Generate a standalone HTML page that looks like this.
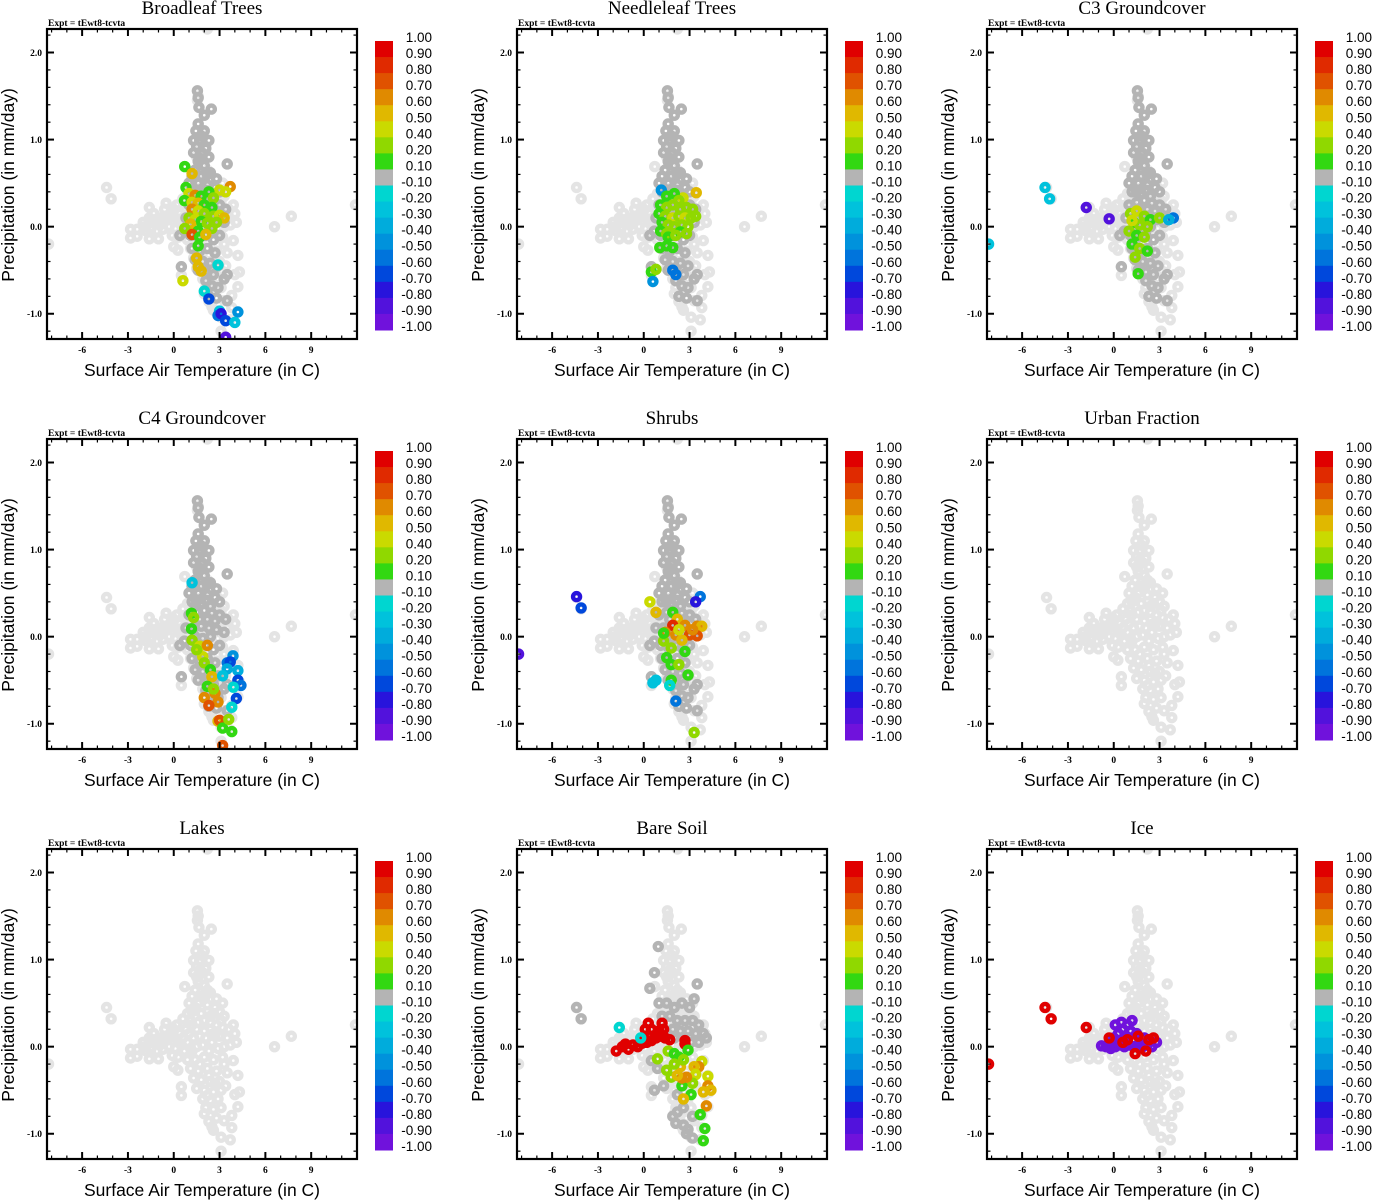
<!DOCTYPE html>
<html><head><meta charset="utf-8"><title>Correlation scatter panels</title>
<style>
html,body{margin:0;padding:0;background:#fff;}
svg{display:block;}
.ttl{font-family:"Liberation Serif",serif;font-size:19px;text-anchor:middle;}
.expt{font-family:"Liberation Serif",serif;font-size:9.5px;font-weight:bold;}
.axl{font-family:"Liberation Sans",sans-serif;font-size:17.5px;text-anchor:middle;}
.tk{font-family:"Liberation Serif",serif;font-size:9.5px;font-weight:bold;}
.cbl{font-family:"Liberation Sans",sans-serif;font-size:13.5px;text-anchor:end;}
</style></head>
<body>
<svg id="fig" width="1373" height="1200" viewBox="0 0 1373 1200" xmlns="http://www.w3.org/2000/svg"></svg>
<script>
// ---- data ----
const panelTitles = ["Broadleaf Trees","Needleleaf Trees","C3 Groundcover","C4 Groundcover","Shrubs","Urban Fraction","Lakes","Bare Soil","Ice"];
const xTicks = [-6,-3,0,3,6,9];
const yTicks = [-1,0,1,2];
const yTickLabels = ["-1.0","0.0","1.0","2.0"];
const cbLabels = ["1.00","0.90","0.80","0.70","0.60","0.50","0.40","0.20","0.10","-0.10","-0.20","-0.30","-0.40","-0.50","-0.60","-0.70","-0.80","-0.90","-1.00"];
const cbValues = [1.0,0.9,0.8,0.7,0.6,0.5,0.4,0.2,0.1,-0.1,-0.2,-0.3,-0.4,-0.5,-0.6,-0.7,-0.8,-0.9,-1.0];
const cbColors = ["#e00000","#e02a00","#e05200","#e08a00","#e0b800","#cada00","#90d800","#32d812","#b4b4b4","#00d6d0","#00c2dc","#00acdc","#0092dc","#0074dc","#0048dc","#2814dc","#5212dc","#7012dc"];

const lightCloud = [[1.55,1.56],[1.6,1.5],[1.55,1.45],[1.65,1.37],[2.46,1.35],[2.0,1.28],[1.6,1.18],[1.45,1.1],[2.0,1.1],[1.8,1.05],[1.3,0.99],[1.7,0.99],[2.3,0.99],[1.5,0.92],[2.1,0.9],[1.3,0.85],[1.9,0.85],[2.3,0.8],[0.72,0.69],[3.5,0.72],[1.6,0.75],[2.0,0.7],[1.4,0.65],[2.4,0.62],[1.2,0.58],[1.8,0.58],[2.8,0.55],[3.2,0.5],[1.0,0.5],[1.6,0.5],[2.2,0.48],[2.7,0.45],[3.0,0.4],[3.3,0.35],[1.2,0.4],[1.8,0.38],[2.4,0.35],
[-2.0,0.05],[-1.6,0.1],[-1.2,0.05],[-0.8,0.1],[-0.4,0.08],[0,0.12],[0.4,0.15],[0.8,0.2],[1.2,0.25],[1.6,0.28],[2.0,0.3],[2.4,0.28],[2.8,0.25],[3.2,0.22],[3.6,0.2],[4.0,0.15],[4.1,0.05],[3.7,0.02],[3.3,0.0],[2.9,-0.02],[2.5,0.05],[2.1,0.1],[1.7,0.12],[1.3,0.1],[0.9,0.05],[0.5,0.02],[0.1,-0.02],[-0.3,0.0],[-0.7,-0.03],[-1.1,-0.05],[-1.5,-0.03],[-1.9,0.0],[-1.3,0.15],[-0.6,0.2],[0.2,0.25],[0.6,0.32],[-0.1,-0.1],[0.3,-0.12],[-1.8,-0.05],[2.0,0.18],[2.6,0.15],[3.0,0.12],[1.0,0.15],[0.0,0.2],[-1.0,0.1],[-0.2,0.15],[0.6,0.1],[1.5,0.2],[3.5,0.1],
[-1.4,0.08],[-0.9,0.02],[-0.5,0.12],[0.3,0.05],[0.7,-0.05],[1.1,-0.02],[1.5,0.0],[1.9,0.02],[2.3,-0.05],[2.7,0.12],[3.1,0.3],[3.9,0.25],[1.1,0.3],[0.9,0.38],[2.6,0.38],[1.4,0.45],[2.0,0.55],[1.5,0.8],[2.2,0.65],[1.7,0.88],
[-4.4,0.45],[-4.1,0.32],[-1.6,0.22],[-0.5,0.27],[-2.83,-0.03],[-2.83,-0.13],[-2.4,-0.03],[-2.4,-0.11],[-1.6,-0.14],[-1.0,-0.14],[0,-0.23],[0.27,-0.27],[7.7,0.12],[6.6,0.0],[2.2,2.27],[-8.2,-0.2],[11.9,0.25],
[0.9,-0.15],[1.4,-0.15],[2.0,-0.12],[2.6,-0.15],[3.2,-0.12],[1.1,-0.25],[1.6,-0.28],[2.2,-0.25],[2.8,-0.28],[1.3,-0.36],[1.8,-0.38],[2.4,-0.4],[3.0,-0.4],[1.5,-0.48],[2.0,-0.5],[2.6,-0.52],[3.1,-0.5],[1.9,-0.6],[2.4,-0.62],[2.9,-0.6],[2.1,-0.7],[2.6,-0.72],[3.1,-0.7],[0.5,-0.46],[0.5,-0.56],[4.2,-0.33],[3.9,-0.16],[4.3,-0.52],[4.0,-0.55],[4.2,-0.69],[3.8,-0.79],[2.0,-0.77],[2.6,-0.96],[2.5,-0.92],[3.1,-1.04],[3.7,-1.07],[3.8,-0.93],[3.1,-1.2],[3.4,-0.45],[3.5,-0.3],
[1.2,-0.05],[1.7,-0.2],[2.3,-0.33],[2.7,-0.42],[2.2,-0.56],[2.8,-0.82],[2.3,-0.86],[3.3,-0.85],[3.3,-0.2]];

const darkCommon = [[1.55,1.56],[1.6,1.48],[1.65,1.37],[2.46,1.35],[2.0,1.28],[1.6,1.18],[1.45,1.1],[2.0,1.1],[1.8,1.04],[1.3,0.99],[1.7,0.99],[2.3,0.99],[1.5,0.92],[2.1,0.9],[1.3,0.85],[1.9,0.84],[2.3,0.8],[1.6,0.75],[2.0,0.7],[3.5,0.72],[1.4,0.65],[2.4,0.62],[1.2,0.58],[1.8,0.58],[2.8,0.55],[1.0,0.5],[1.6,0.5],[2.2,0.48],[2.7,0.45],[1.2,0.4],[1.8,0.38],[2.4,0.35],[3.0,0.4],[1.0,0.25],[1.5,0.28],[2.0,0.3],[2.5,0.27],[3.0,0.25],[3.4,0.2],[0.8,0.1],[1.3,0.1],[1.8,0.12],[2.3,0.1],[2.8,0.08],[3.3,0.05],[0.7,-0.05],[1.1,-0.1],[1.6,-0.12],[2.1,-0.1],[2.6,-0.15],[3.0,-0.1],[1.2,-0.25],[1.7,-0.28],[2.2,-0.25],[2.7,-0.3],[1.4,-0.38],[1.9,-0.4],[2.4,-0.42],[2.9,-0.45],[1.6,-0.5],[2.1,-0.52],[2.6,-0.55],[2.1,-0.62],[2.5,-0.68],[2.9,-0.7],[2.3,-0.8],[2.8,-0.82],[3.3,-0.6],[3.5,-0.55],[0.5,-0.46],[0.4,-0.1],[3.5,-0.85],[1.7,0.2],[2.2,0.2],[2.7,0.18],[1.4,0.0],[1.9,-0.02],[2.4,0.0],[1.5,0.4],[2.1,0.42],[1.8,0.78],[2.2,0.6]];

const darkBare = [[0.95,1.15],[0.7,0.85],[0.4,0.67],[3.5,0.72],[1.0,0.5],[1.5,0.5],[2.0,0.45],[2.5,0.5],[3.0,0.45],[3.3,0.55],[1.2,0.35],[1.7,0.35],[2.2,0.3],[2.7,0.3],[3.2,0.3],[3.6,0.25],[1.9,0.2],[2.4,0.18],[2.9,0.18],[3.4,0.15],[3.9,0.15],[4.1,0.1],[2.0,0.1],[3.1,0.05],[3.6,0.05],[0.5,-0.16],[0.9,-0.25],[1.3,-0.45],[0.7,-0.5],[2.2,-0.55],[2.6,-0.7],[2.2,-0.75],[1.9,-0.8],[2.1,-0.88],[2.9,-0.95],[2.8,-1.0],[3.2,-1.05],[-4.4,0.45],[-4.1,0.32],[3.2,-0.8],[2.6,-0.9]];

const pts1 = [[0.72,0.69,0.1],[1.2,0.61,0.5],[3.7,0.46,0.6],[3.4,0.4,0.45],[3.0,0.42,0.4],[0.8,0.45,0.1],[1.0,0.38,0.45],[1.4,0.36,0.6],[1.8,0.35,0.1],[2.3,0.4,0.1],[2.6,0.33,0.2],[0.7,0.3,0.1],[1.2,0.28,0.45],[1.6,0.27,0.5],[2.0,0.25,0.1],[2.5,0.22,0.1],[1.2,0.2,0.6],[1.6,0.18,0.4],[2.0,0.15,0.2],[2.6,0.12,0.2],[3.0,0.13,0.45],[3.3,0.1,0.5],[1.0,0.1,0.2],[1.4,0.08,0.45],[1.8,0.06,0.1],[2.2,0.04,0.2],[2.8,0.05,0.2],[1.1,0.03,0.5],[2.5,-0.02,0.2],[1.6,-0.05,0.1],[0.72,-0.02,0.2],[1.2,-0.09,0.7],[1.7,-0.12,0.1],[2.1,-0.09,0.5],[1.6,-0.22,0.1],[1.5,-0.36,0.5],[1.8,-0.51,0.5],[1.6,-0.46,0.5],[0.6,-0.62,0.45],[2.9,-0.44,-0.2],[2.0,-0.74,-0.2],[2.3,-0.83,-0.7],[3.0,-0.97,-0.3],[2.9,-1.02,-0.6],[3.1,-1.0,-0.8],[4.2,-0.98,-0.5],[3.4,-1.08,-0.7],[4.0,-1.1,-0.3],[3.4,-1.27,-0.9]];
const pts2 = [[2.57,0.33,0.45],[3.44,0.39,0.5],[1.15,0.42,-0.5],[1.5,0.35,0.1],[2.0,0.38,0.1],[2.3,0.3,0.2],[1.1,0.25,0.1],[1.5,0.22,0.2],[1.9,0.25,0.2],[2.4,0.2,0.2],[2.8,0.22,0.2],[3.2,0.2,0.2],[1.0,0.15,0.1],[1.4,0.12,0.2],[1.9,0.1,0.45],[2.3,0.12,0.2],[2.7,0.1,0.45],[3.1,0.1,0.2],[3.4,0.12,0.2],[1.2,0.05,0.1],[1.6,0.02,0.2],[2.0,0.0,0.2],[2.5,0.02,0.2],[2.9,0.0,0.2],[1.1,-0.05,0.1],[1.5,-0.08,0.2],[2.0,-0.1,0.2],[2.4,-0.06,0.1],[2.8,-0.08,0.2],[1.6,-0.12,0.1],[1.05,-0.24,0.1],[1.5,-0.22,0.1],[1.9,-0.24,0.1],[2.1,-0.1,0.2],[0.5,-0.52,0.1],[0.8,-0.49,0.2],[0.6,-0.63,-0.5],[1.9,-0.5,-0.6],[2.1,-0.55,-0.6]];
const pts3 = [[-4.5,0.45,-0.3],[-4.2,0.32,-0.3],[-8.2,-0.2,-0.3],[-1.8,0.22,-0.85],[-0.3,0.09,-0.85],[1.1,0.15,0.2],[1.5,0.18,0.45],[2.0,0.12,0.2],[2.4,0.08,0.1],[3.0,0.1,0.2],[1.3,0.05,0.1],[1.7,0.02,0.2],[2.2,0.0,0.2],[1.0,-0.05,0.2],[1.5,-0.1,0.1],[2.0,-0.12,0.2],[1.2,-0.2,0.1],[1.7,-0.25,0.2],[2.2,-0.28,0.1],[1.4,-0.35,0.2],[1.6,-0.54,0.1],[3.9,0.1,-0.6],[3.6,0.08,-0.4],[1.2,0.07,0.45]];
const pts4 = [[1.2,0.62,-0.3],[1.16,0.27,0.1],[1.3,0.22,0.2],[1.16,0.09,0.1],[1.2,-0.04,0.2],[1.7,-0.11,0.45],[2.2,-0.1,0.6],[1.9,-0.23,0.4],[1.5,-0.15,0.2],[2.0,-0.3,0.2],[2.4,-0.38,0.1],[2.5,-0.46,0.5],[2.2,-0.57,0.1],[2.7,-0.65,0.6],[2.0,-0.7,0.6],[2.9,-0.75,0.6],[2.3,-0.79,0.7],[2.6,-0.6,0.2],[2.9,-0.97,0.5],[3.0,-0.96,0.7],[3.2,-1.05,0.1],[3.8,-1.09,0.1],[3.6,-0.95,0.2],[3.2,-1.25,0.7],[3.88,-0.22,-0.5],[3.5,-0.3,-0.6],[3.7,-0.29,-0.7],[3.5,-0.37,-0.4],[4.2,-0.39,-0.4],[4.2,-0.5,-0.7],[4.4,-0.56,-0.6],[3.9,-0.58,-0.2],[4.1,-0.71,-0.7],[3.8,-0.81,-0.2],[3.2,-0.45,-0.3]];
const pts5 = [[-4.4,0.46,-0.8],[-4.1,0.33,-0.7],[-8.2,-0.2,-0.85],[3.7,0.46,-0.6],[3.4,0.4,-0.8],[0.4,0.4,0.45],[0.8,0.28,0.5],[1.9,0.28,0.1],[2.2,0.2,0.5],[1.9,0.13,0.8],[2.7,0.13,0.6],[3.5,0.12,0.6],[3.8,0.12,0.5],[3.0,0.02,0.75],[3.5,0.01,0.75],[1.4,0.05,0.6],[2.1,0.02,0.6],[2.5,-0.04,0.5],[1.3,-0.05,0.2],[1.3,0.04,0.1],[1.8,-0.13,0.2],[2.7,-0.17,0.1],[1.5,-0.24,0.1],[1.8,-0.32,0.1],[2.3,-0.32,0.2],[2.9,-0.44,0.1],[1.8,-0.5,0.1],[0.6,-0.53,-0.3],[0.8,-0.5,-0.3],[1.7,-0.56,-0.2],[2.1,-0.74,-0.6],[3.3,-1.1,0.3],[2.3,0.08,0.45],[3.2,0.08,0.6]];
const pts6 = [];
const pts7 = [];
const pts8 = [[-1.8,-0.05,0.95],[-1.4,0.0,0.95],[-1.0,-0.03,0.95],[-0.7,0.02,0.95],[-0.4,0.0,0.95],[-0.1,0.04,0.95],[0.2,0.05,0.95],[0.5,0.07,0.95],[0.8,0.1,0.95],[1.1,0.12,0.95],[1.4,0.1,0.95],[1.7,0.08,0.95],[-1.2,0.03,0.95],[0.0,0.1,0.95],[0.4,0.12,0.95],[0.3,0.27,0.95],[0.5,0.2,0.95],[1.2,0.27,0.95],[1.0,0.18,0.95],[1.0,0.13,0.95],[2.7,0.03,0.95],[2.7,0.07,0.95],[0.1,0.2,0.95],[1.3,0.2,0.95],
[-1.6,0.22,-0.2],[-0.2,0.1,-0.2],
[1.6,-0.05,0.2],[0.9,-0.14,0.2],[2.0,-0.08,0.1],[2.3,-0.12,0.1],[2.9,-0.04,0.1],[3.8,-0.17,0.45],[3.6,-0.23,0.6],[3.3,-0.23,0.5],[3.4,-0.32,0.45],[4.2,-0.34,0.45],[4.2,-0.45,0.6],[4.4,-0.5,0.5],[3.9,-0.52,0.5],[4.1,-0.68,0.6],[3.7,-0.78,0.1],[4.0,-0.94,0.1],[3.9,-1.08,0.1],[3.2,-0.42,0.2],[2.5,-0.45,0.1],[3.1,-0.55,0.1],[2.6,-0.6,0.5],[2.8,-0.35,0.6],[2.5,-0.36,0.6],[2.4,-0.23,0.5],[1.5,-0.27,0.2],[1.8,-0.35,0.2],[2.2,-0.33,0.5],[2.0,-0.2,0.2],[2.6,-0.15,0.2]];
const pts9 = [[-4.5,0.45,0.95],[-4.1,0.32,0.95],[-8.2,-0.2,0.95],[-1.8,0.22,0.95],[-0.5,0.0,-0.95],[-0.2,-0.02,-0.95],[0.1,0.0,-0.95],[0.4,0.02,-0.95],[0.7,0.0,-0.95],[1.0,0.02,-0.95],[1.3,0.0,-0.95],[1.6,0.02,-0.95],[1.9,0.0,-0.95],[2.2,0.02,-0.95],[2.5,0.0,-0.95],[0.0,0.1,-0.95],[0.3,0.15,-0.95],[0.6,0.2,-0.95],[0.9,0.25,-0.95],[1.2,0.3,-0.95],[0.5,0.28,-0.95],[0.1,0.25,-0.95],[-0.1,0.05,-0.95],[1.5,0.15,-0.95],[2.0,0.1,-0.95],[0.8,0.12,-0.95],[1.1,0.18,-0.95],[2.8,0.05,-0.95],[-0.8,0.01,-0.95],
[-0.3,0.1,0.95],[0.9,0.08,0.95],[1.6,0.12,0.95],[2.6,0.1,0.95],[1.4,-0.08,0.95],[2.1,-0.05,0.95],[0.6,0.05,0.95],[2.3,0.08,0.95]];
const panelPoints = [pts1,pts2,pts3,pts4,pts5,pts6,pts7,pts8,pts9];
const panelDark = [darkCommon,darkCommon,darkCommon,darkCommon,darkCommon,[],[],darkBare,[]];

// ---- drawing ----
const NS = "http://www.w3.org/2000/svg";
const svg = document.getElementById("fig");
const XMIN=-8.3, XMAX=12.0, YMIN=-1.29, YMAX=2.27, W=310, H=310;
function mk(tag, attrs, parent){const e=document.createElementNS(NS,tag);for(const k in attrs)e.setAttribute(k,attrs[k]);(parent||svg).appendChild(e);return e;}
function colorFor(v){for(let k=0;k<cbColors.length;k++){if(v<=cbValues[k]&&v>=cbValues[k+1])return cbColors[k];}return v>1?cbColors[0]:cbColors[17];}

panelTitles.forEach((title,i)=>{
  const c=i%3, r=Math.floor(i/3);
  const ox=47+470*c, oy=29+410*r;
  const sx=v=>ox+(v-XMIN)/(XMAX-XMIN)*W;
  const sy=v=>oy+H-(v-YMIN)/(YMAX-YMIN)*H;
  const g=mk("g",{});
  
  

  const t=mk("text",{x:ox+155,y:oy-15,class:"ttl"},g); t.textContent=title;
  
  
  const ex=mk("text",{x:ox+1,y:oy-3,class:"expt"},g); ex.textContent="Expt = tEwt8-tcvta";
  
  

  const clip=mk("clipPath",{id:"clip"+i},g);
  mk("rect",{x:ox,y:oy,width:W,height:H},clip);
  const pg=mk("g",{"clip-path":"url(#clip"+i+")"},g);
  
  
  const drawPt=(x,y,col,name)=>{
    const p=mk("circle",{cx:sx(x),cy:sy(y),r:3.5,fill:"none",stroke:col,"stroke-width":4.4},pg);
    
    
  };
  lightCloud.forEach(d=>drawPt(d[0],d[1],"#e4e4e4","point-insignificant"));
  panelDark[i].forEach(d=>drawPt(d[0],d[1],"#b4b4b4","point-near-zero"));
  panelPoints[i].forEach(d=>drawPt(d[0],d[1],colorFor(d[2]),"point-correlation"));

  const fr=mk("rect",{x:ox,y:oy,width:W,height:H,fill:"none",stroke:"#000","stroke-width":2.2},g);
  
  
  for(let v=-8;v<=12;v++){
    const maj=xTicks.includes(v), L=maj?7:3.5;
    mk("line",{x1:sx(v),x2:sx(v),y1:oy+H,y2:oy+H-L,stroke:"#000","stroke-width":maj?2:1.2},g);
    mk("line",{x1:sx(v),x2:sx(v),y1:oy,y2:oy+L,stroke:"#000","stroke-width":maj?2:1.2},g);
  }
  xTicks.forEach(v=>{const tl=mk("text",{x:sx(v),y:oy+H+14,class:"tk","text-anchor":"middle"},g);tl.textContent=String(v);
    
    });
  for(let k=-6;k<=11;k++){
    const v=k*0.2, maj=Math.abs(v-Math.round(v))<1e-6, L=maj?7:3.5;
    mk("line",{x1:ox,x2:ox+L,y1:sy(v),y2:sy(v),stroke:"#000","stroke-width":maj?2:1.2},g);
    mk("line",{x1:ox+W,x2:ox+W-L,y1:sy(v),y2:sy(v),stroke:"#000","stroke-width":maj?2:1.2},g);
  }
  yTicks.forEach((v,k)=>{const tl=mk("text",{x:ox-5,y:sy(v)+3.5,class:"tk","text-anchor":"end"},g);tl.textContent=yTickLabels[k];
    
    });
  const xl=mk("text",{x:ox+155,y:oy+H+37,class:"axl"},g); xl.textContent="Surface Air Temperature (in C)";
  
  
  const yl=mk("text",{x:0,y:0,class:"axl",transform:"translate("+(ox-33)+","+(oy+156)+") rotate(-90)"},g); yl.textContent="Precipitation (in mm/day)";
  
  

  const cb=mk("g",{},g);
  
  
  const bh=289/18;
  cbColors.forEach((col,k)=>{
    const b=mk("rect",{x:ox+328,y:oy+12+k*bh,width:18,height:bh+0.5,fill:col},cb);
    
    
  });
  cbLabels.forEach((lab,k)=>{
    const tl=mk("text",{x:ox+385,y:oy+13+k*bh,class:"cbl"},cb); tl.textContent=lab;
    
    
  });
});
</script>
</body></html>
